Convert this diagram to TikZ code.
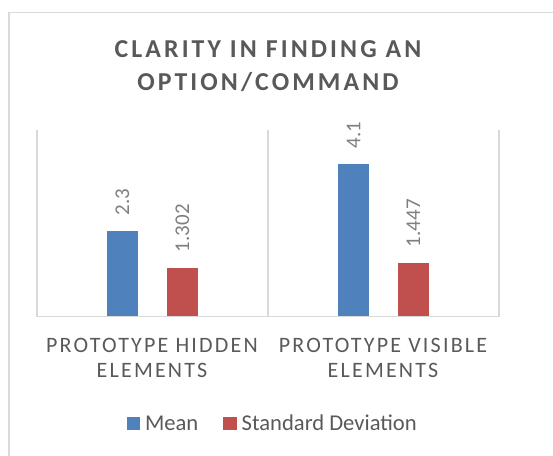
\documentclass[tikz,border=0pt]{standalone}
\usepackage{fontspec}
\setmainfont{Carlito}
\newfontfamily\titlefont{Carlito}[LetterSpace=12]
\newfontfamily\catfont{Carlito}[LetterSpace=10]
\definecolor{meanblue}{HTML}{4F81BD}
\definecolor{sdred}{HTML}{C0504D}
\definecolor{framegray}{HTML}{D9D9D9}
\definecolor{textgray}{HTML}{595959}
\definecolor{labelgray}{HTML}{7F7F7F}
\begin{document}
\begin{tikzpicture}[x=1pt,y=-1pt,
  txt/.style={inner sep=0pt, outer sep=0pt, anchor=base},
  titletxt/.style={txt, text=textgray, font=\titlefont\bfseries\fontsize{25.8}{26}\selectfont},
  cattxt/.style={txt, text=textgray, font=\catfont\fontsize{22}{22}\selectfont},
  legtxt/.style={txt, anchor=base west, text=textgray, font=\fontsize{22.6}{22}\selectfont},
  vallabel/.style={inner sep=0pt, outer sep=0pt, rotate=90, anchor=west, text=labelgray, font=\fontsize{21}{21}\selectfont},
  axisline/.style={draw=framegray, line width=1.2pt},
  meanbar/.style={fill=meanblue},
  sdbar/.style={fill=sdred}]
\useasboundingbox (0,0) rectangle (553,455);
% chart frame
\draw[framegray, line width=1.4pt] (9,470) -- (9,12.7) -- (570,12.7);
% title
\node[titletxt] (t1) at (268,57.3) {CLARITY IN FINDING AN};
\node[titletxt] (t2) at (268,90.7) {OPTION/COMMAND};
% plot area lines
\draw[axisline] (37,130) -- (37,316.7);
\draw[axisline] (268,130) -- (268,316.7);
\draw[axisline] (499,130) -- (499,316.7);
\draw[axisline] (37,316.7) -- (499,316.7);
% bars
\fill[meanbar] (107,316.2) rectangle (138,231);
\fill[sdbar] (166.7,316.2) rectangle (198,268.3);
\fill[meanbar] (338,316.2) rectangle (369.3,164);
\fill[sdbar] (398,316.2) rectangle (429,263.3);
% value labels
\node[vallabel] (v1) at (122.5,215) {2.3};
\node[vallabel] (v2) at (182.4,252) {1.302};
\node[vallabel] (v3) at (353.7,148) {4.1};
\node[vallabel] (v4) at (413.5,247) {1.447};
% category labels
\node[cattxt] (c1a) at (152,352.3) {PROTOTYPE HIDDEN};
\node[cattxt] (c1b) at (152,377.3) {ELEMENTS};
\node[cattxt] (c2a) at (383,352.3) {PROTOTYPE VISIBLE};
\node[cattxt] (c2b) at (383,377.3) {ELEMENTS};
% legend
\fill[meanbar] (126.7,416.7) rectangle (140,429.5);
\node[legtxt] (l1) at (145,430) {Mean};
\fill[sdbar] (223,416.7) rectangle (236.7,429.5);
\node[legtxt] (l2) at (241.7,430) {Standard Deviation};
\end{tikzpicture}
\end{document}
